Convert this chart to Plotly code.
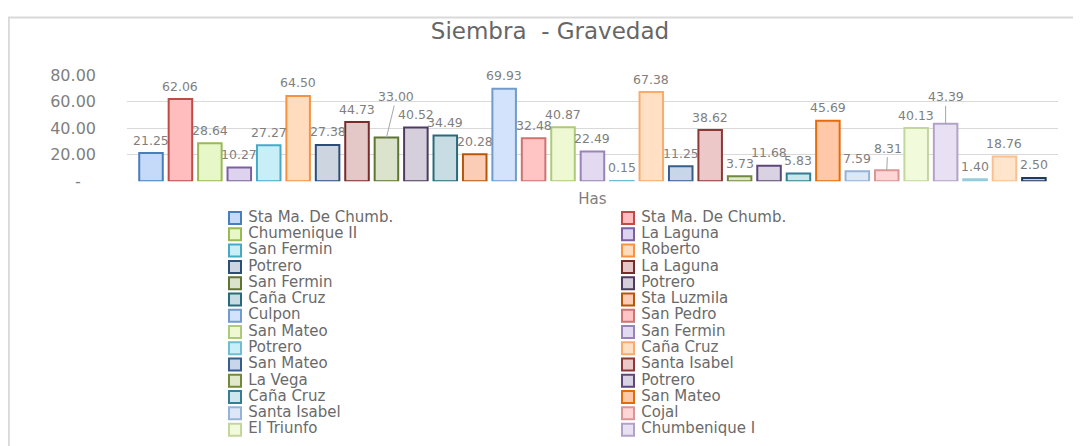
import plotly.graph_objects as go

# ---------------- data ----------------
values = [21.25, 62.06, 28.64, 10.27, 27.27, 64.50, 27.38, 44.73, 33.00, 40.52,
          34.49, 20.28, 69.93, 32.48, 40.87, 22.49, 0.15, 67.38, 11.25, 38.62,
          3.73, 11.68, 5.83, 45.69, 7.59, 8.31, 40.13, 43.39, 1.40, 18.76, 2.50]

legend_names = ["Sta Ma. De Chumb.", "Sta Ma. De Chumb.", "Chumenique II", "La Laguna",
                "San Fermin", "Roberto", "Potrero", "La Laguna", "San Fermin", "Potrero",
                "Caña Cruz", "Sta Luzmila", "Culpon", "San Pedro", "San Mateo", "San Fermin",
                "Potrero", "Caña Cruz", "San Mateo", "Santa Isabel", "La Vega", "Potrero",
                "Caña Cruz", "San Mateo", "Santa Isabel", "Cojal", "El Triunfo", "Chumbenique I"]

category_label = ["Has"]
y_tickvals = [0, 20, 40, 60, 80]
y_ticktext = ["-\u00a0\u00a0\u00a0", "20.00", "40.00", "60.00", "80.00"]
title_text = "Siembra  - Gravedad"

# ---------------- style ----------------
borders = ["#4A7EBB", "#BE4B48", "#98B954", "#7D60A0", "#46AAC5", "#F69240",
           "#2C4D75", "#772C2A", "#5F7530", "#4D3B62", "#276A7C", "#B65708",
           "#729ACA", "#CD7371", "#AFC97A", "#9983B5", "#6FBDD1", "#F9AB6B",
           "#385D8A", "#8C3836", "#71893F", "#5C4776", "#357D91", "#E46C0A",
           "#95B3D7", "#D99694", "#C3D69B", "#B3A2C7", "#93CDDD", "#FAC090",
           "#1F3B5D"]
fills = ["#C5D9F8", "#FFBDBD", "#E8F7C8", "#DDD3EE", "#C8EEF8", "#FFDCBD",
         "#CDD5E1", "#E4C8C8", "#DCE3CC", "#D4CFDB", "#C7DDE3", "#FCCDB6",
         "#D3E3FB", "#FFC4C4", "#EEF9D4", "#E3DAF2", "#C8EEF8", "#FFE0C4",
         "#C8D6EA", "#EDC8C8", "#E0E9CC", "#D9D2E2", "#CDE5EC", "#FFC8A8",
         "#DCE8F8", "#FFD5D5", "#F2FADC", "#E8E0F3", "#D5F0F7", "#FFE5CC",
         "#C8D0DA"]
# special label placements with leader lines (index: (dx, dy) in px)
label_leaders = {8: (10, -41), 25: (1, -22), 27: (0, -27)}

W, H = 1081, 446
OFF = 8  # page offset of the figure (body margin)
FONT = "DejaVu Sans"
GREY = "#7f7f7f"

fig = go.Figure()

for i, v in enumerate(values):
    fig.add_trace(go.Bar(
        x=[i], y=[v], width=0.8,
        name=legend_names[i] if i < len(legend_names) else "",
        marker=dict(color=fills[i], line=dict(color=borders[i], width=2)),
        showlegend=False, xaxis="x", yaxis="y",
        hovertemplate="%{y:.2f}<extra>%{fullData.name}</extra>",
    ))

# data labels
for i, v in enumerate(values):
    txt = f"{v:.2f}"
    if i in label_leaders:
        dx, dy = label_leaders[i]
        fig.add_annotation(x=i, y=v, xref="x", yref="y", text=txt,
                           showarrow=True, arrowhead=0, arrowwidth=1,
                           arrowcolor="#a6a6a6", ax=dx, ay=dy, standoff=0,
                           font=dict(family=FONT, size=12.5, color=GREY))
    else:
        fig.add_annotation(x=i, y=v, xref="x", yref="y", text=txt,
                           showarrow=False, yshift=13,
                           font=dict(family=FONT, size=12.5, color=GREY))

# manual legend (two columns, row-major order)
leg_cols = [i % 2 for i in range(len(legend_names))]
leg_rows = [i // 2 for i in range(len(legend_names))]
fig.add_trace(go.Scatter(
    x=leg_cols, y=leg_rows, mode="markers+text",
    text=["\u00a0" + n for n in legend_names], textposition="middle right",
    textfont=dict(family=FONT, size=15, color="#6a6a6a"),
    marker=dict(symbol="square", size=12,
                color=fills[:len(legend_names)],
                line=dict(color=borders[:len(legend_names)], width=2)),
    xaxis="x2", yaxis="y2", showlegend=False, hoverinfo="skip",
    cliponaxis=False,
))

# pixel geometry of plot area (page coords minus page offset)
px_left, px_right = 127 - OFF, 1058 - OFF
px_top, px_bot = 69 - OFF, 179.5 - OFF
unit = 29.43
first_bar = 151 - OFF
x0 = -(first_bar - px_left) / unit
x1 = x0 + (px_right - px_left) / unit

# legend axes: col 0 swatch centre / col 1, row 0 centre, 17px per row
col0, col1 = 235 - OFF, 628 - OFF
row0, row_h = 218 - OFF, 17
cpx = col1 - col0
lx0 = -col0 / cpx
lx1 = lx0 + W / cpx
ly_top = -row0 / row_h
ly_bot = ly_top + H / row_h

fig.update_layout(
    width=W, height=H,
    margin=dict(l=0, r=0, t=0, b=0),
    paper_bgcolor="white", plot_bgcolor="rgba(0,0,0,0)",
    barmode="overlay",
    title=dict(text=title_text, x=(550 - OFF) / W, xanchor="center",
               y=1 - (31 - OFF) / H, yanchor="middle", yref="container",
               font=dict(family=FONT, size=23, color="#666666")),
    xaxis=dict(domain=[px_left / W, px_right / W], range=[x0, x1],
               tickvals=[15], ticktext=category_label, showgrid=False,
               zeroline=False, showline=False, ticks="",
               tickfont=dict(family=FONT, size=15, color=GREY),
               ticklabelstandoff=7, fixedrange=True),
    yaxis=dict(domain=[1 - px_bot / H, 1 - px_top / H], range=[0, 80],
               tickvals=y_tickvals, ticktext=y_ticktext, showgrid=True,
               gridcolor="#d9d9d9", gridwidth=1, zeroline=False,
               showline=False, ticks="", ticklabelstandoff=30,
               tickfont=dict(family=FONT, size=16, color=GREY), fixedrange=True),
    xaxis2=dict(domain=[0, 1], range=[lx0, lx1], visible=False, anchor="y2",
                fixedrange=True),
    yaxis2=dict(domain=[0, 1], range=[ly_bot, ly_top], visible=False, anchor="x2",
                fixedrange=True),
    shapes=[dict(type="rect", xref="paper", yref="paper", x0=0.8 / W, x1=1.05,
                 y0=-0.05, y1=1 - 0.5 / H, line=dict(color="#d9d9d9", width=2),
                 layer="below")],
    showlegend=False,
)

fig.write_html("out.html")
